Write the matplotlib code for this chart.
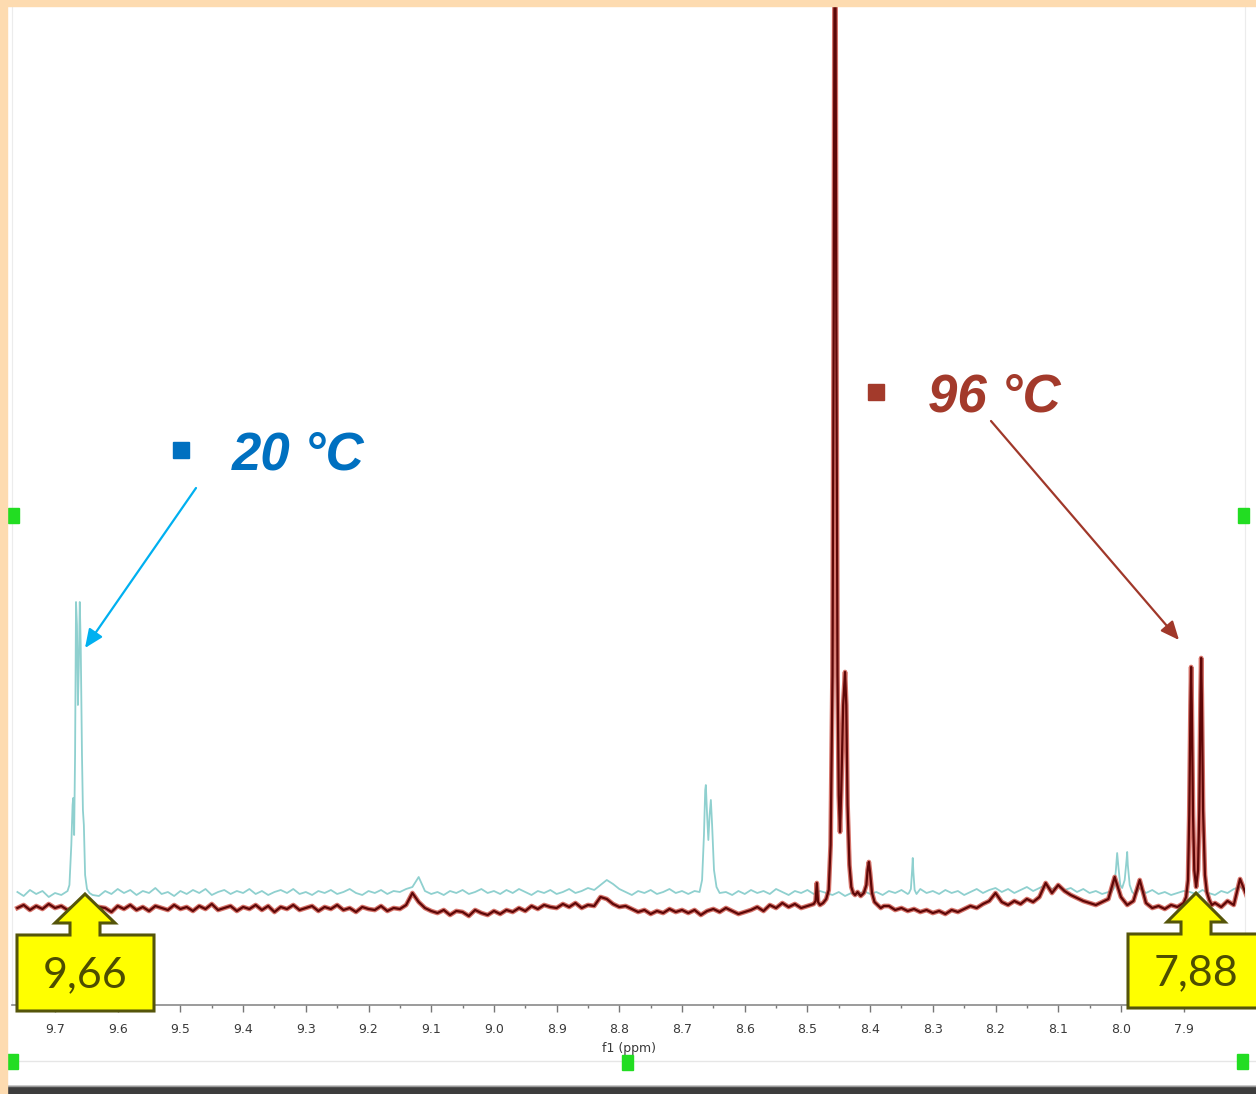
"""
1H NMR overlay 20 °C / 96 °C (9.8 - 7.8 ppm)
"""
import matplotlib
matplotlib.use("Agg")
import matplotlib.pyplot as plt
import numpy as np
from matplotlib.patches import Rectangle, Polygon
from matplotlib.ticker import MultipleLocator, FormatStrFormatter

W, H = 1256, 1094

# ---- data (intensity in arbitrary units) ----
grid_ppm = np.round(np.linspace(9.76, 7.80, 197), 2)

red_base = (
    [97, 100, 95, 99, 96, 101, 97]
    + [99, 95, 98, 96, 100, 94, 98, 97, 93, 99]
    + [96, 100, 95, 98, 94, 99, 97, 95, 100, 96]
    + [98, 94, 99, 96, 101, 95, 97, 99, 94, 98]
    + [96, 100, 95, 99, 93, 98, 96, 100, 95, 97]
    + [99, 94, 98, 96, 100, 95, 97, 93, 98, 96]
    + [95, 99, 94, 97, 96, 100, 112, 103, 97, 94]
    + [92, 95, 90, 94, 93, 89, 95, 92, 90, 94]
    + [91, 95, 93, 97, 94, 99, 96, 100, 98, 97]
    + [101, 98, 102, 97, 100, 99, 108, 106, 101, 98]
    + [99, 96, 93, 95, 91, 94, 92, 96, 93, 95]
    + [92, 95, 90, 94, 96, 93, 97, 94, 91, 93]
    + [95, 98, 94, 100, 97, 102, 98, 101, 97, 99]
    + [98, 101, 103, 100, 102, 105, 104, 103, 105, 104]
    + [100, 97, 99, 95, 97, 94, 96, 93, 95, 92]
    + [94, 91, 95, 93, 96, 99, 97, 101, 104, 112]
    + [103, 100, 104, 101, 106, 103, 108, 122, 112, 120]
    + [114, 110, 107, 104, 102, 100, 103, 106, 128, 108]
    + [100, 104, 125, 102, 97, 99, 96, 100, 98, 101]
    + [104, 110, 112, 104, 102, 98, 104, 100, 126, 110]
)

cyan_base = (
    [113, 109, 115, 111, 114, 108, 112]
    + [110, 114, 111, 115, 112, 113, 109, 114, 111, 116]
    + [112, 115, 110, 114, 112, 117, 111, 113, 109, 114]
    + [111, 115, 112, 116, 110, 113, 115, 111, 114, 112]
    + [116, 111, 114, 110, 113, 115, 112, 116, 111, 113]
    + [110, 114, 112, 115, 111, 113, 116, 112, 110, 114]
    + [112, 115, 111, 114, 113, 116, 118, 128, 114, 111]
    + [113, 110, 114, 112, 115, 111, 113, 116, 112, 114]
    + [111, 115, 112, 116, 113, 110, 114, 112, 115, 111]
    + [113, 116, 112, 114, 117, 115, 120, 125, 121, 116]
    + [113, 110, 114, 112, 115, 111, 113, 116, 112, 114]
    + [111, 114, 112, 116, 118, 116, 113, 110, 114, 111]
    + [115, 112, 114, 111, 116, 113, 110, 114, 112, 115]
    + [111, 114, 112, 110, 113, 109, 112, 110, 114, 111]
    + [113, 110, 114, 112, 115, 111, 113, 116, 112, 114]
    + [111, 115, 112, 114, 110, 113, 116, 112, 115, 117]
    + [113, 116, 112, 115, 118, 114, 117, 120, 116, 119]
    + [115, 117, 113, 116, 112, 114, 111, 113, 116, 112]
    + [114, 110, 117, 112, 115, 111, 113, 110, 112, 114]
    + [113, 111, 115, 112, 110, 114, 112, 116, 118, 113]
)

# 96 °C peaks
red_845_ppm = [8.490, 8.487, 8.485, 8.483, 8.480, 8.475, 8.470, 8.466, 8.463, 8.460,
               8.458, 8.456, 8.454, 8.452, 8.450, 8.448, 8.446, 8.443, 8.440, 8.438,
               8.436, 8.433, 8.430, 8.427, 8.424, 8.420, 8.415, 8.410, 8.406, 8.404,
               8.402, 8.400, 8.397, 8.393, 8.388, 8.383, 8.378]
red_845_int = [101, 104, 122, 103, 100, 102, 106, 115, 160, 330,
               700, 1250, 700, 330, 210, 173, 215, 300, 333, 300,
               200, 140, 118, 112, 110, 113, 109, 112, 120, 135,
               143, 132, 112, 103, 100, 97, 99]
red_788_ppm = [7.900, 7.896, 7.893, 7.891, 7.889, 7.888, 7.887, 7.885, 7.883, 7.880,
               7.877, 7.875, 7.873, 7.872, 7.871, 7.869, 7.866, 7.863, 7.859, 7.855]
red_788_int = [102, 108, 125, 190, 300, 338, 300, 190, 135, 118,
               135, 195, 310, 347, 310, 195, 130, 113, 105, 100]

# 20 °C peaks
cyan_966_ppm = [9.685, 9.680, 9.677, 9.674, 9.672, 9.671, 9.6695, 9.668, 9.6665, 9.665,
                9.6635, 9.662, 9.6605, 9.659, 9.657, 9.6555, 9.654, 9.652, 9.649, 9.645, 9.640]
cyan_966_int = [112, 114, 120, 160, 200, 207, 170, 250, 403, 380,
                300, 340, 403, 360, 250, 195, 180, 130, 116, 112, 110]
cyan_866_ppm = [8.672, 8.668, 8.665, 8.663, 8.662, 8.660, 8.658, 8.656, 8.654, 8.652,
                8.649, 8.645, 8.640]
cyan_866_int = [113, 125, 170, 215, 220, 190, 165, 190, 205, 180, 135, 118, 112]
cyan_833_ppm = [8.338, 8.335, 8.333, 8.332, 8.331, 8.329, 8.326]
cyan_833_int = [112, 116, 135, 147, 133, 115, 111]
cyan_800_ppm = [8.016, 8.011, 8.008, 8.006, 8.004, 8.001, 7.998, 7.994, 7.991, 7.990,
                7.989, 7.986, 7.982, 7.977]
cyan_800_int = [112, 117, 135, 152, 138, 120, 117, 125, 145, 153, 140, 120, 113, 110]

tick_values = [9.7, 9.6, 9.5, 9.4, 9.3, 9.2, 9.1, 9.0, 8.9, 8.8,
               8.7, 8.6, 8.5, 8.4, 8.3, 8.2, 8.1, 8.0, 7.9]


def merge(base_ppm, base_int, peaks):
    """baseline points + peak points, baseline dropped inside each peak span"""
    x = np.asarray(base_ppm, float)
    y = np.asarray(base_int, float)
    keep = np.ones(len(x), bool)
    for p_ppm, _ in peaks:
        keep &= ~((x >= min(p_ppm)) & (x <= max(p_ppm)))
    xs = np.concatenate([x[keep]] + [np.asarray(p, float) for p, _ in peaks])
    ys = np.concatenate([y[keep]] + [np.asarray(v, float) for _, v in peaks])
    order = np.argsort(xs)
    return xs[order], ys[order]


red_x, red_y = merge(grid_ppm, red_base,
                     [(red_845_ppm, red_845_int), (red_788_ppm, red_788_int)])
cyan_x, cyan_y = merge(grid_ppm, cyan_base,
                       [(cyan_966_ppm, cyan_966_int), (cyan_866_ppm, cyan_866_int),
                        (cyan_833_ppm, cyan_833_int), (cyan_800_ppm, cyan_800_int)])

# ---- figure ----
fig = plt.figure(figsize=(W / 100, H / 100), dpi=100)
fig.patch.set_facecolor("white")

ax = fig.add_axes([12 / W, (H - 1005) / H, (1245 - 12) / W, (1005 - 6) / H])
ax.set_facecolor("none")
ax.plot(cyan_x, cyan_y, color="#8fd0cf", linewidth=1.3, zorder=2)
ax.plot(red_x, red_y, color="#c8463a", linewidth=3.4, alpha=0.75, zorder=3)
ax.plot(red_x, red_y, color="#5e0707", linewidth=1.6, zorder=3)

ax.set_xlim(9.7686, 7.8021)
ax.set_ylim(0, 999)
ax.set_yticks([])
ax.set_xticks(tick_values)
ax.xaxis.set_major_formatter(FormatStrFormatter("%.1f"))
ax.xaxis.set_minor_locator(MultipleLocator(0.05))
ax.tick_params(axis="x", which="major", direction="out", length=5, width=1,
               color="#777777", labelsize=9, labelcolor="#3a3a3a", pad=8)
ax.tick_params(axis="x", which="minor", direction="out", length=2.5, width=1, color="#777777")
ax.set_xlabel("f1 (ppm)", fontsize=9, color="#3a3a3a", labelpad=4)
ax.spines["top"].set_visible(False)
ax.spines["bottom"].set_color("#8a8a8a")
ax.spines["bottom"].set_linewidth(1.2)
for side in ("left", "right"):
    ax.spines[side].set_color("#ececec")
    ax.spines[side].set_linewidth(0.8)

# overlay in image pixels (y measured from the top)
cv = fig.add_axes([0, 0, 1, 1], zorder=5)
cv.set_xlim(0, W)
cv.set_ylim(H, 0)
cv.axis("off")
cv.patch.set_alpha(0)

# temperature labels + arrows
cv.add_patch(Rectangle((173, 442), 16, 16, color="#0070c0"))
cv.text(232, 470, "20 °C", fontsize=38, fontweight="bold", fontstyle="italic",
        family="Liberation Sans", color="#0070c0", va="baseline", ha="left")
cv.annotate("", xy=(85, 648), xytext=(196, 488),
            arrowprops=dict(arrowstyle="-|>,head_length=0.8,head_width=0.35",
                            color="#00b0f0", lw=1.6, mutation_scale=14,
                            shrinkA=0, shrinkB=0))

cv.add_patch(Rectangle((868, 384), 16, 16, color="#a33a2b"))
cv.text(928, 412, "96 °C", fontsize=38, fontweight="bold", fontstyle="italic",
        family="Liberation Sans", color="#a33a2b", va="baseline", ha="left")
cv.annotate("", xy=(1179, 640), xytext=(991, 421),
            arrowprops=dict(arrowstyle="-|>,head_length=0.8,head_width=0.35",
                            color="#a0382a", lw=1.6, mutation_scale=14,
                            shrinkA=0, shrinkB=0))


def callout(tip_x, tip_y, head_w, shaft_w, box_l, box_r, box_b, label):
    head_b = tip_y + 29
    box_t = head_b + 12
    pts = [(tip_x, tip_y), (tip_x + head_w, head_b), (tip_x + shaft_w, head_b),
           (tip_x + shaft_w, box_t), (box_r, box_t), (box_r, box_b),
           (box_l, box_b), (box_l, box_t), (tip_x - shaft_w, box_t),
           (tip_x - shaft_w, head_b), (tip_x - head_w, head_b)]
    cv.add_patch(Polygon(pts, closed=True, facecolor="#ffff00", edgecolor="#55550a",
                         linewidth=2.2, joinstyle="miter", zorder=4))
    cv.text((box_l + min(box_r, W)) / 2 if box_r < W else tip_x, (box_t + box_b) / 2 + 2,
            label, fontsize=31, family="Lato", color="#4d4d00",
            ha="center", va="center", zorder=5)


callout(85, 894, 30, 15, 17, 154, 1011, "9,66")
callout(1196, 893, 29, 15, 1128, 1275, 1008, "7,88")

# screen-capture furniture
cv.text(14, 9, "DDGH 1", fontsize=8, color="#555555", va="bottom", ha="left")
cv.plot([7, W], [1061, 1061], color="#e6e6e6", lw=1)
cv.add_patch(Rectangle((7, 1086), W - 7, 8, color="#3d3d3d", zorder=6))
cv.plot([7, W], [1086, 1086], color="#9a9a9a", lw=1, zorder=6)
for hx, hy in [(8, 508), (1238, 508), (7, 1054), (622, 1055), (1237, 1054)]:
    cv.add_patch(Rectangle((hx, hy), 11, 15, color="#22dd22", zorder=7))
cv.add_patch(Rectangle((0, 0), 7, H, color="#fddbb0", zorder=10))
cv.add_patch(Rectangle((0, 0), W, 6, color="#fddbb0", zorder=10))

fig.savefig("out.png", dpi=100)
